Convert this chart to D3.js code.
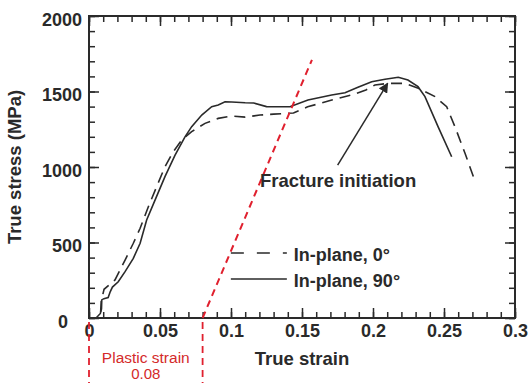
<!DOCTYPE html>
<html>
<head>
<meta charset="utf-8">
<script src="https://cdn.jsdelivr.net/npm/d3@7/dist/d3.min.js"></script>
<style>
  html, body { margin: 0; padding: 0; background: #fff; }
  svg { display: block; font-family: "Liberation Sans", Arial, sans-serif; }
</style>
</head>
<body>
<svg id="chart" width="530" height="383"></svg>
<script>
// True stress–strain curves for two in-plane orientations
const strain90 = [0.0050, 0.0080, 0.0088, 0.0090, 0.0105, 0.0135, 0.0150, 0.0165, 0.0206, 0.0254, 0.0312, 0.0360, 0.0406, 0.0465, 0.0535, 0.0606, 0.0676, 0.0723, 0.0794, 0.0864, 0.0910, 0.0958, 0.1005, 0.1100, 0.1160, 0.1250, 0.1415, 0.1542, 0.1709, 0.1803, 0.1894, 0.1991, 0.2085, 0.2178, 0.2246, 0.2317, 0.2366, 0.2458, 0.2554];
const stress90 = [0, 30, 60, 120, 128, 135, 175, 205, 240, 307, 395, 495, 649, 781, 936, 1079, 1200, 1267, 1344, 1399, 1411, 1432, 1430, 1425, 1424, 1400, 1399, 1444, 1477, 1492, 1528, 1565, 1581, 1594, 1576, 1532, 1466, 1267, 1068];

const strain0 = [0.0082, 0.0086, 0.0106, 0.0150, 0.0183, 0.0254, 0.0312, 0.0360, 0.0418, 0.0476, 0.0535, 0.0594, 0.0653, 0.0723, 0.0817, 0.0910, 0.1005, 0.1100, 0.1204, 0.1300, 0.1440, 0.1540, 0.1630, 0.1710, 0.1850, 0.1950, 0.2014, 0.2108, 0.2225, 0.2319, 0.2437, 0.2519, 0.2577, 0.2648, 0.2707];
const stress0 = [40, 110, 190, 225, 252, 384, 495, 594, 737, 869, 1002, 1102, 1179, 1234, 1289, 1322, 1338, 1330, 1344, 1350, 1358, 1399, 1422, 1444, 1477, 1510, 1543, 1554, 1554, 1521, 1466, 1399, 1267, 1091, 936];

// Offset construction line: plastic strain 0.08
const offsetStrain = [0.08, 0.157];
const offsetStress = [0, 1710];
const plasticStrain = [0, 0.08];

// Tick values
const xMajor = [0, 0.05, 0.1, 0.15, 0.2, 0.25, 0.3];
const xMajorLabels = ["0", "0.05", "0.1", "0.15", "0.2", "0.25", "0.3"];
const yMajor = [0, 500, 1000, 1500, 2000];
const yMajorLabels = ["0", "500", "1000", "1500", "2000"];

// Annotation
const arrowFrom = [0.1751, 1013];
const arrowTo = [0.2103, 1554];
const annoText = "Fracture initiation";
const annoAt = [0.1204, 867];

const legendLabels = ["In-plane, 0°", "In-plane, 90°"];

const svg = d3.select("#chart");
const W = 530, H = 383;
const margin = { left: 89, top: 16, right: 15, bottom: 65 };
const iw = W - margin.left - margin.right;
const ih = H - margin.top - margin.bottom;

const x = d3.scaleLinear().domain([0, 0.3]).range([0, iw]);
const y = d3.scaleLinear().domain([0, 2000]).range([ih, 0]);

const g = svg.append("g").attr("transform", `translate(${margin.left},${margin.top})`);

const ink = "#2a2a2a";
const red = "#e0202e";

// Minor ticks on all four sides (inward)
const xMinor = d3.range(0, 0.3001, 0.01).map(v => +v.toFixed(2));
const yMinor = d3.range(0, 2001, 100);

function styleAxis(sel) {
  sel.select(".domain").remove();
  sel.selectAll(".tick line").attr("stroke", ink).attr("stroke-width", 1.5);
}

g.append("g").attr("transform", `translate(0,${ih})`)
  .call(d3.axisBottom(x).tickValues(xMinor).tickSize(-6).tickFormat("")).call(styleAxis);
g.append("g")
  .call(d3.axisTop(x).tickValues(xMinor).tickSize(-6).tickFormat("")).call(styleAxis);
g.append("g")
  .call(d3.axisLeft(y).tickValues(yMinor).tickSize(-6).tickFormat("")).call(styleAxis);
g.append("g").attr("transform", `translate(${iw},0)`)
  .call(d3.axisRight(y).tickValues(yMinor).tickSize(-6).tickFormat("")).call(styleAxis);

// Major ticks with labels
const xAxis = g.append("g").attr("transform", `translate(0,${ih})`)
  .call(d3.axisBottom(x).tickValues(xMajor).tickSize(-10).tickPadding(6)
    .tickFormat((d, i) => xMajorLabels[i]));
xAxis.call(styleAxis);
xAxis.selectAll("text").attr("fill", ink).attr("font-size", 18).attr("font-weight", "bold")
  .attr("font-family", "'Liberation Sans', Arial, sans-serif");

const yAxis = g.append("g")
  .call(d3.axisLeft(y).tickValues(yMajor).tickSize(-10).tickPadding(7)
    .tickFormat((d, i) => yMajorLabels[i]));
yAxis.call(styleAxis);
yAxis.selectAll("text").attr("fill", ink).attr("font-size", 18).attr("font-weight", "bold")
  .attr("font-family", "'Liberation Sans', Arial, sans-serif")
  .attr("dy", "0.5em")
  .attr("x", d => d === 0 ? -21 : -7);

g.append("g")
  .call(d3.axisTop(x).tickValues(xMajor).tickSize(-10).tickFormat("")).call(styleAxis);
g.append("g").attr("transform", `translate(${iw},0)`)
  .call(d3.axisRight(y).tickValues(yMajor).tickSize(-10).tickFormat("")).call(styleAxis);

// Frame
g.append("rect").attr("width", iw).attr("height", ih)
  .attr("fill", "none").attr("stroke", ink).attr("stroke-width", 2);

// Curves
const line = d3.line().x(d => x(d[0])).y(d => y(d[1]));
const pts0 = strain0.map((s, i) => [s, stress0[i]]);
const pts90 = strain90.map((s, i) => [s, stress90[i]]);

g.append("path").datum(pts90).attr("d", line)
  .attr("fill", "none").attr("stroke", ink).attr("stroke-width", 1.6);
g.append("path").datum(pts0).attr("d", line)
  .attr("fill", "none").attr("stroke", ink).attr("stroke-width", 1.6)
  .attr("stroke-dasharray", "11,7");

// Offset construction line
g.append("path").datum(offsetStrain.map((s, i) => [s, offsetStress[i]])).attr("d", line)
  .attr("fill", "none").attr("stroke", red).attr("stroke-width", 2)
  .attr("stroke-dasharray", "7,5");

// Plastic strain brackets below the axis
g.selectAll(".pl").data(plasticStrain).join("line")
  .attr("x1", d => x(d)).attr("x2", d => x(d))
  .attr("y1", ih + 4).attr("y2", H - margin.top)
  .attr("stroke", red).attr("stroke-width", 1.8).attr("stroke-dasharray", "7,5");

const midPl = (x(plasticStrain[0]) + x(plasticStrain[1])) / 2;
g.append("text").attr("x", midPl).attr("y", ih + 45)
  .attr("text-anchor", "middle").attr("fill", "#d42a2a").attr("font-size", 15.5)
  .text("Plastic strain");
g.append("text").attr("x", midPl).attr("y", ih + 61)
  .attr("text-anchor", "middle").attr("fill", "#d42a2a").attr("font-size", 15)
  .text(d3.format(".2f")(plasticStrain[1] - plasticStrain[0]));

// Axis titles
g.append("text").attr("x", iw / 2).attr("y", ih + 47)
  .attr("text-anchor", "middle").attr("font-size", 18.5).attr("font-weight", "bold")
  .attr("fill", ink).text("True strain");
g.append("text")
  .attr("transform", `translate(${-margin.left + 21},${ih / 2}) rotate(-90)`)
  .attr("text-anchor", "middle").attr("font-size", 18.5).attr("font-weight", "bold")
  .attr("fill", ink).text("True stress (MPa)");

// Arrow annotation
svg.append("defs").append("marker")
  .attr("id", "arrowhead").attr("viewBox", "0 0 10 10")
  .attr("refX", 9).attr("refY", 5).attr("markerWidth", 10).attr("markerHeight", 10)
  .attr("markerUnits", "userSpaceOnUse").attr("orient", "auto")
  .append("path").attr("d", "M0,0 L10,5 L0,10 Z").attr("fill", ink);

g.append("line")
  .attr("x1", x(arrowFrom[0])).attr("y1", y(arrowFrom[1]))
  .attr("x2", x(arrowTo[0])).attr("y2", y(arrowTo[1]))
  .attr("stroke", ink).attr("stroke-width", 1.5).attr("marker-end", "url(#arrowhead)");

g.append("text").attr("x", x(annoAt[0])).attr("y", y(annoAt[1]))
  .attr("font-size", 18.5).attr("font-weight", "bold").attr("fill", ink)
  .text(annoText);

// Legend
const legend = g.append("g").attr("transform", `translate(${x(0.0999)},${y(430)})`);
legendLabels.forEach((lab, i) => {
  const row = legend.append("g").attr("transform", `translate(0,${i * 26})`);
  row.append("line").attr("x1", 0).attr("x2", 56).attr("y1", 0).attr("y2", 0)
    .attr("stroke", ink).attr("stroke-width", 1.6)
    .attr("stroke-dasharray", i === 0 ? "13,13" : null);
  row.append("text").attr("x", 63).attr("y", 4).attr("dy", "0.22em")
    .attr("font-size", 18).attr("font-weight", "bold").attr("fill", ink).text(lab);
});
</script>
</body>
</html>
